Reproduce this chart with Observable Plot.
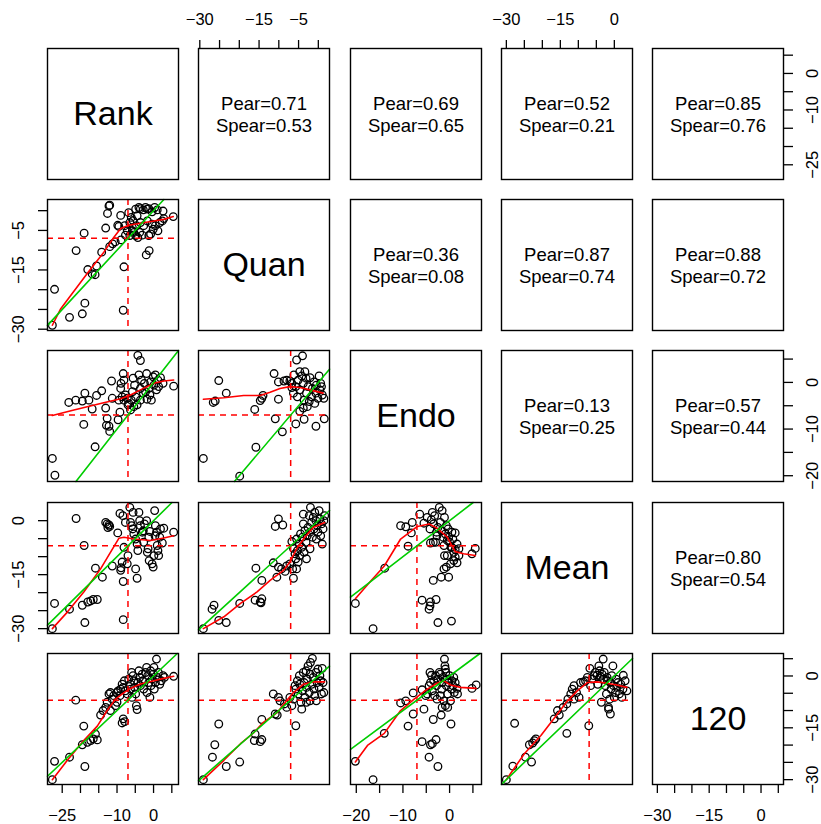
<!DOCTYPE html>
<html>
<head>
<meta charset="utf-8">
<script src="https://cdn.jsdelivr.net/npm/d3@7"></script>
<script src="https://cdn.jsdelivr.net/npm/@observablehq/plot@0.6"></script>
<style>
  html, body { margin: 0; padding: 0; background: #fff; }
  #chart { position: relative; width: 821px; height: 824px; overflow: hidden; }
  #chart svg { position: absolute; }
</style>
</head>
<body>
<div id="chart"></div>
<script>
// Variables of the scatterplot matrix (diagonal order)
const variables = ["Rank", "Quan", "Endo", "Mean", "120"];
// Reference level drawn as dashed red lines for each variable
const varMeans = [-7, -7, -7, -7, -7];
// Tick positions and the tick values that carry a label, per variable
const axisTicks = [
  [-25, -20, -15, -10, -5, 0, 5],
  [-30, -25, -20, -15, -10, -5, 0],
  [-20, -15, -10, -5, 0, 5],
  [-30, -25, -20, -15, -10, -5, 0],
  [-30, -25, -20, -15, -10, -5, 0, 5]
];
const axisLabels = [[-25, -10, 0], [-30, -15, -5], [-20, -10, 0], [-30, -15, 0], [-30, -15, 0]];

// Upper panels: correlation coefficients for each pair (row, col)
const corPairs = [[0,1],[0,2],[0,3],[0,4],[1,2],[1,3],[1,4],[2,3],[2,4],[3,4]];
const pearson  = [0.71, 0.69, 0.52, 0.85, 0.36, 0.87, 0.88, 0.13, 0.57, 0.80];
const spearman = [0.53, 0.65, 0.21, 0.76, 0.08, 0.74, 0.72, 0.25, 0.44, 0.54];

// Lower panels: [x, y] observations
const rankQuan = [[-27.7,-29.0],[-27.1,-19.9],[-23.0,-27.0],[-19.5,-26.1],[-18.8,-23.4],[-21.2,-10.1],[-19.0,-5.7],[-18.0,-14.9],[-16.8,-16.0],[-16.0,-16.2],[-15.6,-14.0],[-14.2,-10.5],[-13.1,-4.4],[-12.6,-0.7],[-12.0,1.4],[-12.2,1.2],[-12.0,-9.1],[-11.2,-8.4],[-10.5,-7.9],[-9.8,-3.7],[-9.5,-4.0],[-9.0,-1.2],[-8.9,-7.4],[-8.1,-14.2],[-8.3,-25.2],[-7.7,-6.2],[-6.8,-0.5],[-6.1,-1.7],[-5.6,-2.5],[-4.9,0.4],[-4.5,-1.3],[-4.0,0.8],[-3.6,0.5],[-2.8,0.2],[-2.2,0.8],[-1.7,0.4],[-1.3,0.5],[-0.4,-0.3],[0.3,0.8],[1.0,0.2],[2.6,-0.1],[5.4,-1.5],[-6.5,-3.0],[-5.8,-4.3],[-5.4,-5.5],[-4.9,-6.3],[-4.3,-6.8],[-3.8,-5.5],[-3.1,-6.2],[-2.7,-3.8],[-1.7,-2.6],[-0.8,-5.9],[-0.1,-4.7],[0.5,-3.8],[1.2,-5.1],[1.7,-3.0],[2.4,-2.6],[2.8,-2.0],[-5.8,-5.1],[-4.7,-3.8],[-3.6,-3.0],[-1.3,-6.3],[-0.4,-3.4],[-7.2,-5.1],[-7.9,-3.8],[-6.5,-6.3],[-2.0,-11.2],[-1.2,-10.1]];
const rankEndo = [[-27.7,-16.3],[-27.0,-19.9],[-16.0,-13.8],[-19.1,-9.0],[-4.3,5.8],[-3.6,4.7],[-23.2,-4.3],[-21.3,-3.8],[-19.5,-4.0],[-18.8,-2.3],[-17.7,-3.8],[-16.8,-5.7],[-15.6,-2.8],[-14.2,-1.8],[-13.1,-5.5],[-11.5,0.3],[-11.3,-3.4],[-12.7,-7.7],[-12.2,-9.4],[-12.0,-10.5],[-12.9,-9.2],[-9.7,-8.0],[-9.2,-6.4],[-9.0,-1.3],[-8.9,-0.2],[-8.3,1.9],[-8.1,0.5],[-7.7,-2.7],[-7.2,-3.4],[-6.8,-4.5],[-6.1,-3.8],[-5.8,-2.0],[-5.6,0.9],[-5.2,-0.6],[-4.9,-3.1],[-4.5,-4.8],[-4.0,1.6],[-3.6,-1.3],[-3.3,0.5],[-2.8,-2.3],[-2.5,-0.2],[-1.9,1.9],[-1.8,-3.6],[-1.3,-1.3],[-0.8,0.1],[-0.6,-3.8],[-0.1,1.2],[0.1,-0.6],[0.5,1.6],[0.8,-1.6],[1.2,0.5],[1.4,-0.9],[1.9,1.0],[2.6,-0.2],[5.5,-0.8],[-6.3,-5.9],[-7.0,-4.8],[-8.1,-3.8],[-5.4,-5.2],[-9.5,-3.8],[-8.6,-3.1],[-3.6,-3.8],[-2.2,-2.0],[-1.0,-2.7]];
const quanEndo = [[-29.1,-16.3],[-19.9,-20.1],[-15.8,-13.9],[-9.1,-10.6],[-10.9,-7.8],[-5.7,-8.9],[-3.6,-7.9],[-0.6,-9.4],[1.5,-7.8],[-25.2,0.4],[-23.3,-2.3],[-26.6,-4.3],[-26.1,-4.0],[-16.1,-5.8],[-14.7,-3.9],[-14.3,-3.4],[-14.0,-2.8],[-11.2,1.9],[-10.1,0.1],[-10.1,-3.6],[-8.7,0.3],[-8.0,0.5],[-5.5,4.8],[-4.0,5.7],[-6.7,-0.2],[-6.2,1.6],[-5.7,-0.9],[-5.3,-3.1],[-5.1,0.5],[-4.7,-1.6],[-4.2,1.4],[-3.8,-0.2],[-3.6,-3.8],[-3.1,0.9],[-3.0,-2.3],[-2.8,-5.2],[-2.6,-0.9],[-2.3,-4.1],[-2.1,1.0],[-1.7,-3.1],[-1.5,-1.3],[-1.1,0.1],[-0.9,-4.5],[-0.6,-2.3],[-0.5,-0.6],[-0.1,-3.4],[0.2,1.4],[0.4,-1.6],[0.6,-0.2],[1.0,-2.7],[1.4,-3.4],[0.8,-0.9],[-4.7,-6.2],[-3.8,-5.5],[-6.3,-2.3],[-6.7,-1.1],[-7.2,0.3],[-3.4,2.3],[-4.7,2.3]];
const rankMean = [[-27.7,-30.0],[-27.1,-23.0],[-23.0,-24.6],[-21.2,0.6],[-19.5,-23.5],[-18.8,-28.3],[-19.0,-6.9],[-18.0,-22.6],[-17.2,-22.3],[-16.5,-21.9],[-15.4,-21.9],[-15.9,-13.2],[-14.0,-15.7],[-13.1,-0.5],[-12.7,-0.9],[-12.2,-1.2],[-12.0,-1.6],[-12.5,-1.9],[-11.3,-12.6],[-9.8,-3.4],[-9.2,2.0],[-8.9,-13.1],[-9.0,-13.8],[-8.4,1.4],[-8.3,-16.9],[-8.3,-27.5],[-8.1,-7.4],[-7.7,-0.5],[-7.0,-9.7],[-7.2,-12.0],[-6.5,3.7],[-6.3,-0.5],[-6.0,-1.4],[-5.7,-2.3],[-5.4,-3.7],[-4.9,-5.1],[-5.6,2.3],[-4.5,-6.5],[-4.3,-8.3],[-4.0,2.3],[-3.8,0.0],[-3.6,-1.4],[-3.1,-3.2],[-2.8,-2.8],[-2.7,-6.0],[-2.5,-0.9],[-1.9,0.0],[-1.7,-8.8],[-1.5,-7.8],[-1.3,-4.6],[-1.2,-11.1],[-1.0,-3.0],[-0.4,-12.0],[-0.1,-12.9],[0.1,-9.7],[0.3,2.8],[0.4,-4.2],[0.5,-1.4],[0.8,-3.2],[1.0,-6.9],[1.2,-8.3],[1.4,-9.7],[1.7,-4.6],[1.9,-2.3],[2.4,-6.2],[2.8,-2.1],[5.5,-3.2],[-4.9,-13.4],[-4.5,-16.0],[-8.6,-11.5]];
const quanMean = [[-29.1,-30.0],[-26.4,-23.5],[-26.9,-24.6],[-25.2,-27.7],[-23.3,-28.3],[-19.9,-23.0],[-16.0,-22.1],[-14.7,-22.6],[-14.3,-21.7],[-14.5,-22.8],[-15.8,-13.2],[-14.3,-16.6],[-11.4,-11.7],[-10.5,-15.7],[-10.1,-12.9],[-9.3,-13.4],[-8.4,-14.1],[-8.0,-12.6],[-6.3,-16.0],[-6.5,-13.4],[-7.2,-12.0],[-10.9,-1.6],[-10.1,0.5],[-9.0,-1.2],[-6.7,-5.8],[-6.3,-7.7],[-5.9,-9.2],[-5.7,-10.6],[-5.5,-5.1],[-5.3,-8.3],[-5.1,-11.5],[-4.8,-6.5],[-4.7,-9.7],[-4.5,-3.7],[-4.2,-7.4],[-4.0,-4.6],[-3.8,-0.9],[-3.6,-8.8],[-3.4,-2.8],[-3.1,-6.0],[-3.0,-10.6],[-2.8,-4.2],[-2.6,-1.9],[-2.3,1.4],[-2.1,-3.2],[-2.0,3.7],[-1.7,-0.5],[-1.5,-4.6],[-1.3,0.9],[-1.1,-2.3],[-0.9,2.3],[-0.6,0.0],[-0.5,-5.1],[-0.3,-1.4],[-0.1,-3.2],[0.2,2.8],[0.4,0.5],[0.6,-4.2],[0.8,-0.9],[1.0,-6.5],[1.2,-2.3],[1.4,0.0],[1.6,1.4],[-3.8,1.8],[-2.1,-7.8],[-5.5,-13.4]];
const endoMean = [[-20.2,-23.0],[-16.4,-30.0],[-13.9,-13.2],[-10.5,-1.4],[-9.4,-1.7],[-8.9,-7.1],[-8.0,-0.5],[-8.2,-3.4],[-6.4,1.8],[-5.9,-22.1],[-4.1,-22.6],[-4.2,-23.7],[-4.4,-24.6],[-2.9,-21.9],[-2.5,-28.3],[0.4,-27.9],[-3.5,-16.6],[-1.8,-15.7],[-0.2,-15.7],[-1.2,-13.4],[-0.7,-12.9],[0.2,-12.0],[-0.5,-9.7],[0.9,-11.1],[1.2,-10.1],[1.6,-11.7],[2.0,-9.7],[0.9,-8.8],[0.5,-7.4],[1.2,-8.0],[-5.5,-0.7],[-4.8,0.9],[-4.2,-2.3],[-3.9,0.3],[-3.7,2.3],[-3.4,-0.9],[-3.2,1.4],[-3.0,-6.0],[-2.8,-3.2],[-2.7,-4.2],[-2.5,-1.9],[-2.2,3.7],[-2.0,-0.5],[-1.7,-2.8],[-1.6,2.8],[-1.4,-4.6],[-1.2,-6.9],[-1.1,0.9],[-0.9,-3.7],[-0.7,-1.4],[-0.5,-5.5],[-0.3,-2.3],[-0.2,-4.6],[0.0,-6.0],[0.3,-7.4],[0.5,-3.2],[0.7,-5.1],[1.2,-3.4],[1.6,-6.5],[2.0,-7.8],[5.5,-7.7],[4.8,-9.2],[-4.1,-6.2],[-3.5,-6.0],[-1.1,-9.7]];
const rank120 = [[-27.7,-30.0],[-27.1,-24.7],[-23.0,-23.5],[-18.8,-26.2],[-19.1,-14.5],[-19.5,-19.9],[-18.1,-19.2],[-17.2,-18.7],[-16.5,-18.2],[-15.9,-16.8],[-15.4,-18.5],[-21.3,-7.0],[-14.5,-11.3],[-13.8,-10.0],[-13.1,-9.1],[-12.7,-7.6],[-12.2,-5.2],[-11.8,-4.8],[-11.3,-6.7],[-10.9,-5.7],[-10.1,-4.8],[-9.7,-4.3],[-9.0,-3.8],[-8.6,-2.4],[-8.3,-3.3],[-8.0,-1.4],[-7.7,-4.3],[-7.2,-5.2],[-8.3,-12.4],[-8.6,-13.6],[-7.9,-13.2],[-6.3,-2.4],[-6.0,1.0],[-5.9,-6.2],[-5.6,0.1],[-5.4,-1.4],[-5.2,-3.3],[-4.9,-5.2],[-4.7,-8.6],[-4.5,-9.7],[-4.3,-1.9],[-4.0,1.5],[-3.8,-0.4],[-3.6,-2.8],[-3.1,0.5],[-2.9,-1.4],[-2.7,-3.8],[-2.2,1.0],[-1.9,2.5],[-1.8,-4.8],[-1.6,0.1],[-1.3,-1.9],[-1.0,-6.2],[-0.8,1.5],[-0.7,-2.8],[-0.4,-0.9],[-0.1,0.5],[0.1,2.5],[0.2,-3.8],[0.5,-1.9],[0.8,4.9],[1.0,-0.4],[1.3,1.0],[1.7,-2.4],[2.1,-1.4],[2.6,0.1],[3.0,-0.4],[5.5,-0.1],[-6.3,-3.8],[-6.8,-0.9],[-10.0,-7.6],[-11.8,-10.0],[-9.2,-5.7],[-10.4,-8.6]];
const quan120 = [[-29.1,-30.0],[-26.8,-23.5],[-26.2,-19.9],[-25.2,-13.9],[-23.3,-26.2],[-19.9,-24.9],[-16.0,-16.8],[-16.2,-18.7],[-14.7,-19.0],[-14.3,-18.4],[-14.3,-12.6],[-10.9,-11.0],[-10.4,-11.3],[-11.4,-5.2],[-10.1,-6.2],[-9.7,-7.2],[-8.6,-8.1],[-8.0,-9.1],[-6.7,-8.6],[-6.3,-6.7],[-5.7,-14.4],[-5.9,-2.8],[-5.7,-3.8],[-5.3,-1.4],[-5.1,-5.2],[-4.8,0.1],[-4.7,-2.4],[-4.4,-7.6],[-4.2,-9.6],[-4.0,-4.3],[-3.8,1.0],[-3.6,-1.9],[-3.4,-6.2],[-3.1,1.5],[-3.0,-3.3],[-2.8,-0.9],[-2.6,2.9],[-2.3,-4.8],[-2.1,0.5],[-2.0,3.9],[-1.7,-2.4],[-1.5,5.1],[-1.3,-0.4],[-1.1,-3.8],[-0.9,-5.7],[-0.6,1.0],[-0.5,-7.2],[-0.3,-1.9],[-0.1,2.0],[0.2,-3.3],[0.4,0.1],[0.6,-1.4],[0.8,-5.2],[1.0,2.2],[1.4,-4.8],[1.2,-1.9],[-2.1,-7.2],[-3.0,-7.6],[-7.2,-6.2]];
const endo120 = [[-20.2,-24.7],[-16.4,-30.0],[-14.0,-16.6],[-10.5,-7.8],[-9.4,-7.2],[-8.9,-14.5],[-7.8,-11.0],[-7.8,-4.9],[-5.9,-4.0],[-5.5,-9.6],[-5.9,-19.0],[-4.4,-23.5],[-4.1,-19.9],[-3.7,-19.6],[-2.9,-18.4],[-2.5,-26.2],[-3.5,-12.6],[-1.8,-11.3],[-1.6,-9.1],[-0.9,-8.6],[-1.2,-7.2],[0.3,-13.9],[-4.2,1.0],[-3.9,0.2],[-5.1,-5.7],[-4.8,-5.2],[-4.4,-2.8],[-4.1,-1.9],[-3.7,-4.3],[-3.4,-1.4],[-3.2,-5.7],[-3.0,0.1],[-2.8,-2.8],[-2.7,-6.7],[-2.5,-0.9],[-2.2,1.0],[-2.0,0.5],[-1.7,-3.8],[-1.6,-1.9],[-1.4,-0.4],[-1.1,4.9],[-1.0,2.9],[-0.9,2.0],[-0.8,1.0],[-0.7,-2.8],[-0.5,-0.9],[-0.4,-5.2],[-0.2,-1.9],[0.0,0.1],[0.2,-7.2],[0.4,-3.8],[0.5,-1.4],[0.7,-2.8],[0.9,-0.4],[1.0,-4.8],[1.2,-1.9],[1.6,-3.6],[1.7,-5.2],[4.8,-3.6],[5.7,-2.6],[-2.0,-5.7],[-0.4,-9.1]];
const mean120 = [[-30.0,-30.0],[-28.2,-26.1],[-27.7,-13.7],[-24.7,-23.5],[-23.0,-24.9],[-23.6,-19.9],[-22.7,-19.4],[-22.2,-18.7],[-21.8,-18.2],[-16.7,-12.4],[-15.8,-10.0],[-15.3,-11.3],[-13.2,-16.6],[-7.1,-14.4],[-13.2,-8.1],[-12.9,-6.7],[-12.1,-5.2],[-11.7,-3.8],[-11.2,-2.8],[-10.5,-4.8],[-9.8,-6.2],[-9.4,-1.9],[-8.6,-1.7],[-8.0,-1.4],[-7.5,-0.4],[-6.8,2.2],[-6.6,-2.8],[-6.2,-0.9],[-5.7,0.1],[-5.3,1.0],[-4.8,0.2],[-4.6,-2.4],[-4.3,2.9],[-4.1,1.5],[-3.9,-0.1],[-3.6,-7.6],[-3.4,0.5],[-3.1,4.9],[-3.0,-0.9],[-2.8,1.0],[-2.5,-2.8],[-2.2,-5.2],[-2.0,-0.4],[-1.9,-1.4],[-1.6,-9.1],[-1.3,-6.7],[-1.1,-1.9],[-0.9,-3.8],[-0.7,0.1],[-0.4,2.9],[-0.2,-2.8],[0.0,-6.2],[0.3,-4.8],[0.5,-0.9],[0.7,-3.3],[1.0,-1.9],[1.4,-5.2],[1.8,-2.4],[2.1,-6.2],[2.4,-3.8],[2.5,0.2],[3.0,-1.4],[3.5,-4.3],[-1.1,-11.0],[-1.6,-9.6],[-11.2,-6.7],[-14.2,-9.1]];

// Lower panels: local regression (lowess) curves
const smoothRankQuan = [[-27.7,-29.0],[-25.4,-24.8],[-18.0,-15.7],[-13.6,-10.5],[-10.9,-6.8],[-9.0,-4.5],[-6.8,-3.7],[-3.6,-3.2],[0.1,-2.6],[2.8,-2.2],[5.4,-1.5]];
const smoothRankEndo = [[-27.7,-7.1],[-21.8,-5.9],[-14.5,-4.5],[-9.0,-3.5],[-6.3,-2.7],[-3.6,-1.6],[0.1,-0.2],[2.8,0.3],[5.5,0.5]];
const smoothQuanEndo = [[-29.1,-3.6],[-23.9,-3.3],[-18.9,-2.8],[-14.7,-2.8],[-12.2,-2.1],[-9.7,-1.3],[-7.2,-0.9],[-4.7,-1.1],[-2.1,-1.6],[1.2,-2.3]];
const smoothRankMean = [[-27.7,-30.0],[-23.6,-25.4],[-19.1,-19.8],[-14.5,-13.4],[-11.8,-8.8],[-9.5,-4.9],[-8.1,-4.6],[-5.4,-5.1],[-0.8,-5.5],[2.8,-4.8],[5.5,-4.2]];
const smoothQuanMean = [[-29.1,-30.0],[-23.9,-26.7],[-19.7,-23.0],[-15.5,-19.8],[-12.2,-16.6],[-8.8,-13.8],[-7.2,-11.5],[-5.5,-7.8],[-3.4,-4.6],[-1.3,-1.9],[1.6,-0.5]];
const smoothEndoMean = [[-20.2,-21.7],[-16.8,-16.6],[-14.0,-12.6],[-10.5,-5.1],[-6.9,-1.6],[-4.4,-0.9],[-2.7,-2.1],[-0.5,-4.6],[1.2,-8.6],[3.0,-9.2],[5.5,-9.7]];
const smoothRank120 = [[-27.7,-30.0],[-23.6,-24.4],[-19.1,-18.7],[-15.4,-14.5],[-12.7,-10.0],[-10.4,-6.7],[-8.1,-4.8],[-6.3,-3.6],[-3.6,-2.3],[0.1,-1.4],[2.8,-0.7],[5.5,-0.1]];
const smoothQuan120 = [[-29.1,-30.0],[-23.9,-24.4],[-19.7,-19.6],[-16.4,-16.5],[-13.9,-13.4],[-10.5,-10.7],[-8.0,-7.1],[-6.3,-4.8],[-3.8,-2.4],[-1.3,-1.7],[1.6,-1.7]];
const smoothEndo120 = [[-20.2,-24.9],[-17.6,-20.1],[-14.0,-16.6],[-10.5,-10.0],[-7.6,-6.7],[-4.8,-3.8],[-2.7,-2.1],[-1.2,-1.4],[0.2,-2.6],[2.3,-3.3],[5.7,-3.6]];
const smoothMean120 = [[-30.0,-30.0],[-25.0,-22.5],[-20.4,-17.2],[-15.8,-11.0],[-13.0,-7.2],[-10.3,-4.3],[-7.5,-1.9],[-4.8,-1.7],[-2.0,-2.1],[0.7,-2.6],[3.5,-3.3]];

// Which pair goes in which lower cell: row = y variable, col = x variable
const lowerPanels = [
  {row: 1, col: 0, points: rankQuan, smooth: smoothRankQuan},
  {row: 2, col: 0, points: rankEndo, smooth: smoothRankEndo},
  {row: 2, col: 1, points: quanEndo, smooth: smoothQuanEndo},
  {row: 3, col: 0, points: rankMean, smooth: smoothRankMean},
  {row: 3, col: 1, points: quanMean, smooth: smoothQuanMean},
  {row: 3, col: 2, points: endoMean, smooth: smoothEndoMean},
  {row: 4, col: 0, points: rank120, smooth: smoothRank120},
  {row: 4, col: 1, points: quan120, smooth: smoothQuan120},
  {row: 4, col: 2, points: endo120, smooth: smoothEndo120},
  {row: 4, col: 3, points: mean120, smooth: smoothMean120}
];

// Each variable's scale spans its data range plus 4% on either side
const domains = variables.map((_, v) => {
  const vals = [];
  for (const p of lowerPanels) {
    if (p.col === v) p.points.forEach(d => vals.push(d[0]));
    if (p.row === v) p.points.forEach(d => vals.push(d[1]));
  }
  const [a, b] = d3.extent(vals);
  const pad = (b - a) * 0.04;
  return [a - pad, b + pad];
});

// Layout of the 5 x 5 grid
const BOX = 131, STEP_X = 151.25, STEP_Y = 151.2, LEFT = 47, TOP = 48, M = 46;
const FONT = "Liberation Sans, Arial, Helvetica, sans-serif";
const RED = "#FF0000", GREEN = "#00CD00";
const fmt = d => (d < 0 ? "\u2212" : "") + Math.abs(d);

function axisMarks(v, side) {
  const ticks = axisTicks[v], labels = axisLabels[v];
  const common = {fontSize: 16.5, fontFamily: FONT, fill: "black", text: fmt};
  const tickOpts = {ticks, tickSize: 9, tickFormat: () => "", label: null, stroke: "black", strokeWidth: 1.3};
  if (side === "top") return [
    Plot.axisX({...tickOpts, anchor: "top"}),
    Plot.text(labels, {...common, x: d => d, frameAnchor: "top", dy: -29, lineAnchor: "middle"})
  ];
  if (side === "bottom") return [
    Plot.axisX({...tickOpts, anchor: "bottom"}),
    Plot.text(labels, {...common, x: d => d, frameAnchor: "bottom", dy: 31, lineAnchor: "middle"})
  ];
  if (side === "left") return [
    Plot.axisY({...tickOpts, anchor: "left"}),
    Plot.text(labels, {...common, y: d => d, frameAnchor: "left", dx: -29, rotate: -90, textAnchor: "middle", lineAnchor: "middle"})
  ];
  return [
    Plot.axisY({...tickOpts, anchor: "right"}),
    Plot.text(labels, {...common, y: d => d, frameAnchor: "right", dx: 29, rotate: -90, textAnchor: "middle", lineAnchor: "middle"})
  ];
}

function panel(i, j) {
  const marks = [];
  const xd = domains[j], yd = domains[i];
  if (i > j) {
    const p = lowerPanels.find(q => q.row === i && q.col === j);
    const lo = Math.max(xd[0], yd[0]), hi = Math.min(xd[1], yd[1]);
    marks.push(
      Plot.dot(p.points, {x: d => d[0], y: d => d[1], r: 3.8, stroke: "black", strokeWidth: 1.3, fill: "none"}),
      Plot.ruleX([varMeans[j]], {x: d => d, stroke: RED, strokeWidth: 1.5, strokeDasharray: "6,5"}),
      Plot.ruleY([varMeans[i]], {y: d => d, stroke: RED, strokeWidth: 1.5, strokeDasharray: "6,5"}),
      Plot.line(p.smooth, {x: d => d[0], y: d => d[1], stroke: RED, strokeWidth: 1.6}),
      Plot.line([[lo, lo], [hi, hi]], {x: d => d[0], y: d => d[1], stroke: GREEN, strokeWidth: 1.6})
    );
  } else if (i === j) {
    marks.push(Plot.text([variables[i]], {text: d => d, frameAnchor: "middle", fontSize: 34, fontFamily: FONT, fill: "black"}));
  } else {
    const k = corPairs.findIndex(([a, b]) => a === i && b === j);
    const label = `Pear=${pearson[k].toFixed(2)}\nSpear=${spearman[k].toFixed(2)}`;
    marks.push(Plot.text([label], {text: d => d, frameAnchor: "middle", fontSize: 18.5, lineHeight: 1.2, fontFamily: FONT, fill: "black"}));
  }
  marks.push(Plot.frame({stroke: "black", strokeWidth: 1.4}));
  if (i === 0 && j % 2 === 1) marks.push(...axisMarks(j, "top"));
  if (i === 4 && j % 2 === 0) marks.push(...axisMarks(j, "bottom"));
  if (j === 0 && i % 2 === 1) marks.push(...axisMarks(i, "left"));
  if (j === 4 && i % 2 === 0) marks.push(...axisMarks(i, "right"));

  const svg = Plot.plot({
    width: BOX + 2 * M,
    height: BOX + 2 * M,
    margin: M,
    x: {domain: xd, axis: null},
    y: {domain: yd, axis: null},
    style: {background: "transparent", overflow: "visible", fontFamily: FONT, maxWidth: "none"},
    marks
  });
  svg.style.left = `${Math.round(LEFT + j * STEP_X) - M}px`;
  svg.style.top = `${Math.round(TOP + i * STEP_Y) - M}px`;
  return svg;
}

const chart = document.getElementById("chart");
for (let i = 0; i < 5; i++) for (let j = 0; j < 5; j++) chart.appendChild(panel(i, j));
</script>
</body>
</html>
